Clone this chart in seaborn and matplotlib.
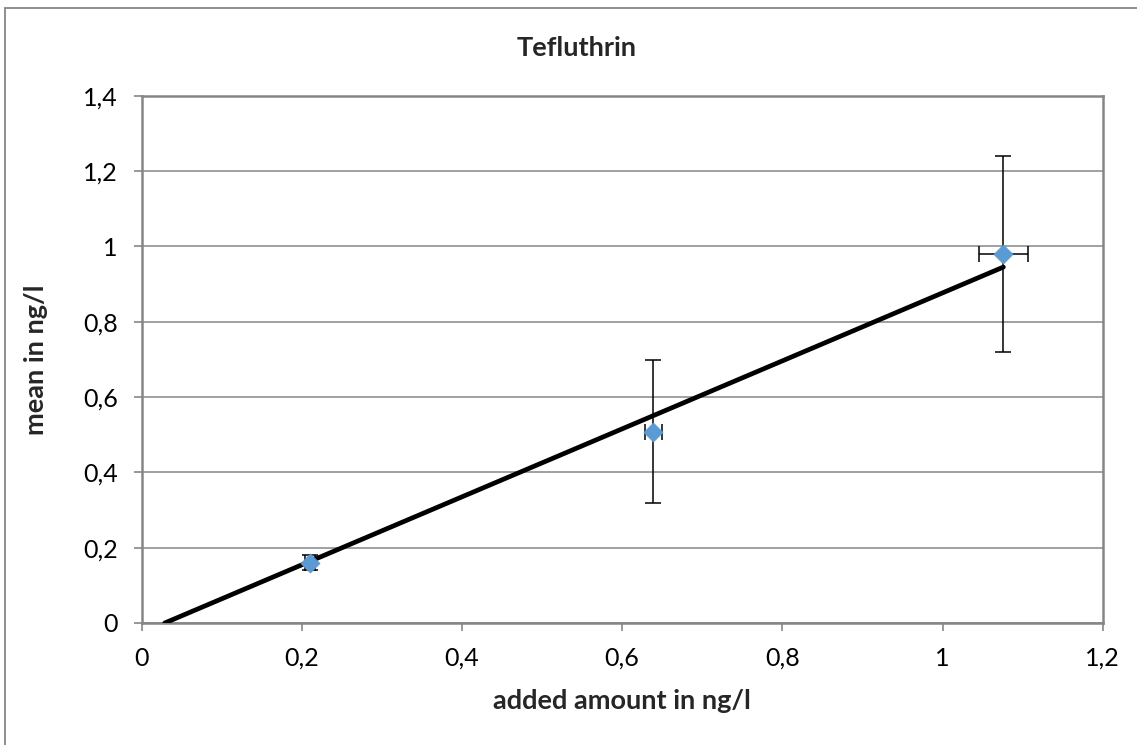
import numpy as np
import pandas as pd
import matplotlib
matplotlib.use("Agg")
import matplotlib.pyplot as plt
from matplotlib.patches import Rectangle
import seaborn as sns

# values
added = [0.21, 0.639, 1.076]
mean = [0.16, 0.508, 0.980]
err_y = [0.02, 0.19, 0.26]
err_x = [0.006, 0.011, 0.031]

# trendline (start/end of the drawn line)
trend_x = [0.029, 1.076]
trend_y = [0.0, 0.945]

x_ticks = [0, 0.2, 0.4, 0.6, 0.8, 1, 1.2]
y_ticks = [0, 0.2, 0.4, 0.6, 0.8, 1, 1.2, 1.4]

df = pd.DataFrame({"added": added, "mean": mean})
trend = pd.DataFrame({"x": trend_x, "y": trend_y})

sns.set_theme(style="white")
plt.rcParams["font.family"] = ["Lato", "DejaVu Sans"]

grey = "#868686"
blue = "#5B9BD5"

fig = plt.figure(figsize=(11.37, 7.45), dpi=100)
ax = fig.add_axes([141.5 / 1137, 1 - 623 / 745, (1102.7 - 141.5) / 1137, (623 - 95.7) / 745])

# outer chart frame (runs off the right and bottom of the picture)
fig.patches.append(Rectangle((5 / 1137, -0.1), 1.2, 1 - 7.5 / 745 + 0.1,
                             transform=fig.transFigure, fill=False,
                             edgecolor=grey, linewidth=1.3))

ax.errorbar(added, mean, yerr=err_y, xerr=err_x, fmt="none", ecolor="black",
            elinewidth=1.1, capsize=6, capthick=1.1, zorder=2)
sns.lineplot(data=trend, x="x", y="y", ax=ax, color="black", linewidth=3.4, zorder=3)
sns.scatterplot(data=df, x="added", y="mean", ax=ax, marker="D", s=90,
                color=blue, edgecolor=blue, zorder=4)

ax.set_xlim(0, 1.2)
ax.set_ylim(0, 1.4)
ax.set_xticks(x_ticks)
ax.set_yticks(y_ticks)
fmt = lambda v: ("%g" % v).replace(".", ",")
ax.set_xticklabels([fmt(v) for v in x_ticks])
ax.set_yticklabels([fmt(v) for v in y_ticks])
ax.tick_params(axis="both", labelsize=18, colors=grey, labelcolor="black",
               direction="out", length=6, width=1.2, pad=11, bottom=True, left=True)

ax.grid(axis="y", color=grey, linewidth=1.1)
ax.set_axisbelow(True)
for s in ax.spines.values():
    s.set_color(grey)
    s.set_linewidth(1.8)

ax.set_xlabel("added amount in ng/l", fontsize=19.5, fontweight="bold")
ax.set_ylabel("mean in ng/l", fontsize=19.5, fontweight="bold")
ax.xaxis.set_label_coords(0.5, -0.125)
ax.yaxis.set_label_coords(-0.097, 0.5)
fig.text(577 / 1137, 1 - 48 / 745, "Tefluthrin", ha="center", va="center",
         fontsize=19.5, fontweight="bold")

# cut-off text above the chart frame
fig.text(117 / 1137, 1 + 12 / 745, "y", ha="center", va="center",
         fontsize=18, fontweight="bold")

fig.savefig("out.png", dpi=100)
